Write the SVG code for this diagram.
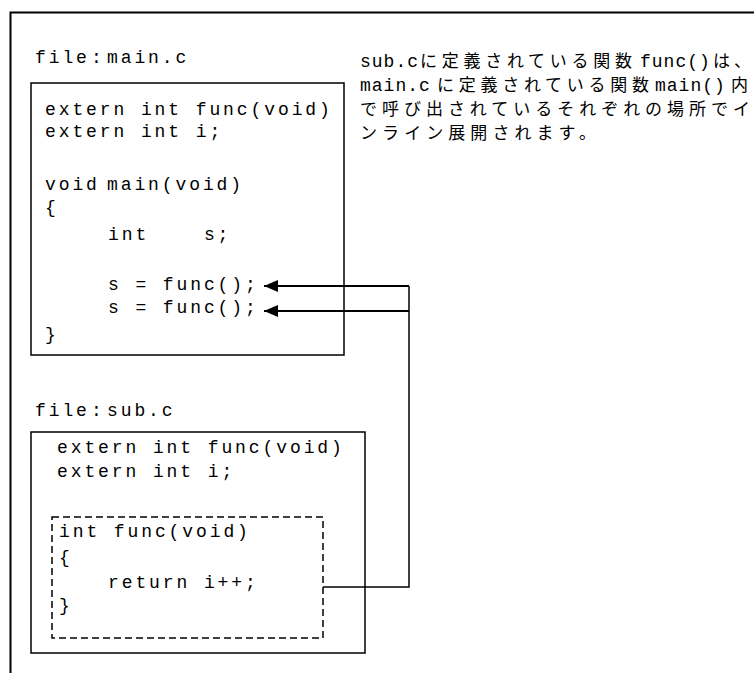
<svg xmlns="http://www.w3.org/2000/svg" width="754" height="673" viewBox="0 0 754 673">
<style>
.code{font-family:"Liberation Mono","DejaVu Sans Mono",monospace;font-size:18px;letter-spacing:2.9px;fill:#000;white-space:pre;}
.jp{font-family:"Noto Sans CJK JP",sans-serif;font-size:17px;fill:#000;}
.jm{font-family:"Liberation Mono","DejaVu Sans Mono",monospace;font-size:18px;letter-spacing:1px;fill:#000;}
.box{fill:#fff;stroke:#000;stroke-width:1.5;}
.dash{fill:none;stroke:#000;stroke-width:1.5;stroke-dasharray:7 4;}
.conn{fill:none;stroke:#000;stroke-width:1.5;}
.arr{fill:none;stroke:#000;stroke-width:2;marker-end:url(#ah);}
</style>
<defs>
<marker id="ah" markerUnits="userSpaceOnUse" markerWidth="16" markerHeight="14" refX="14" refY="6" orient="auto">
<path d="M0,0 L14,6 L0,12 Z" fill="#000"/>
</marker>
</defs>
<rect width="754" height="673" fill="#fff"/>
<g id="frame">
<path d="M10.5,673 L10.5,12.5 L754,12.5" fill="none" stroke="#000" stroke-width="2"/>
</g>
<g id="main-file">
<text class="code" y="63"><tspan x="35">file</tspan><tspan x="91">:</tspan><tspan x="107">main.c</tspan></text>
<rect class="box" x="31" y="83" width="313" height="272"/>
<text class="code" x="45" y="115">extern int func(void)</text>
<text class="code" x="45" y="137">extern int i;</text>
<text class="code" y="190"><tspan x="45">void</tspan><tspan x="107">main(void)</tspan></text>
<text class="code" x="45" y="213">{</text>
<text class="code" x="108" y="240" xml:space="preserve">int    s;</text>
<text class="code" x="108" y="290">s = func();</text>
<text class="code" x="108" y="313">s = func();</text>
<text class="code" x="45" y="340">}</text>
</g>
<g id="note">
<text class="jm" x="360" y="67">sub.c</text>
<text class="jp" x="420" y="67" textLength="212" lengthAdjust="spacing">に定義されている関数</text>
<text class="jm" x="640" y="67">func()</text>
<text class="jp" x="713" y="67" textLength="38" lengthAdjust="spacing">は、</text>
<text class="jm" x="360" y="91">main.c</text>
<text class="jp" x="437" y="91" textLength="212" lengthAdjust="spacing">に定義されている関数</text>
<text class="jm" x="655" y="91">main()</text>
<text class="jp" x="731" y="91">内</text>
<text class="jp" x="360" y="115" textLength="390" lengthAdjust="spacing">で呼び出されているそれぞれの場所でイ</text>
<text class="jp" x="360" y="139" textLength="236" lengthAdjust="spacing">ンライン展開されます。</text>
</g>
<g id="sub-file">
<text class="code" y="416"><tspan x="35">file</tspan><tspan x="91">:</tspan><tspan x="107">sub.c</tspan></text>
<rect class="box" x="31" y="432" width="334" height="221"/>
<text class="code" x="57" y="453">extern int func(void)</text>
<text class="code" x="57" y="477">extern int i;</text>
</g>
<g id="func-def">
<rect class="dash" x="52" y="517" width="271" height="121"/>
<text class="code" x="59" y="537">int func(void)</text>
<text class="code" x="59" y="563">{</text>
<text class="code" x="108" y="588">return i++;</text>
<text class="code" x="59" y="611">}</text>
</g>
<g id="connectors">
<path class="conn" d="M323,587 L409,587 L409,286"/>
<path class="arr" d="M409,286 L264,286"/>
<path class="arr" d="M409,311 L264,311"/>
</g>
</svg>
